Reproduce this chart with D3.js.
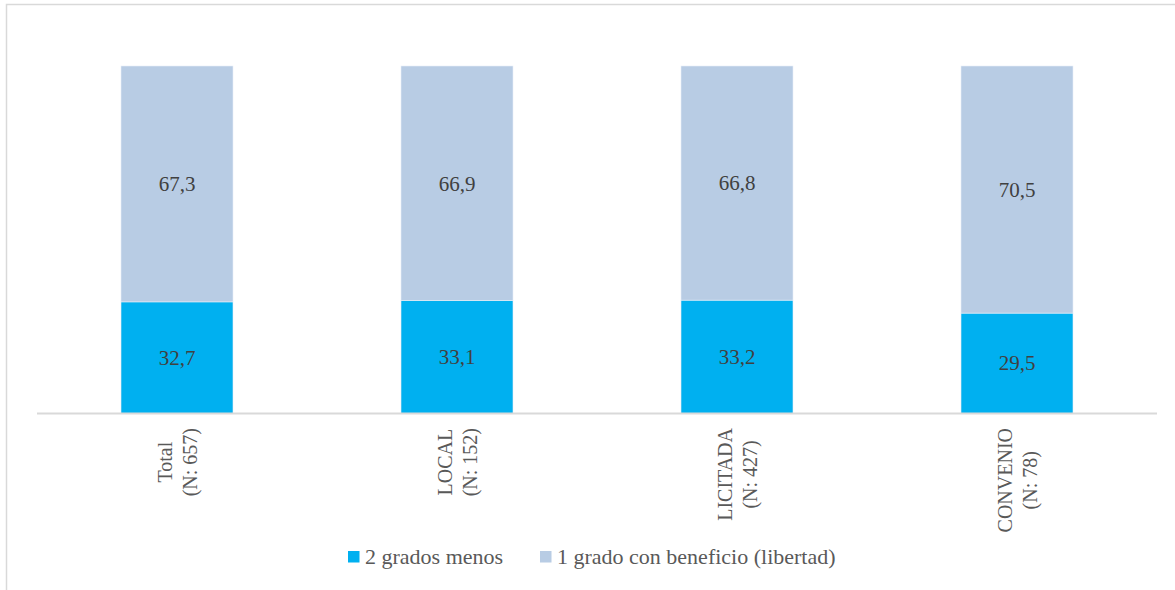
<!DOCTYPE html>
<html><head><meta charset="utf-8">
<script src="https://cdn.jsdelivr.net/npm/d3@7/dist/d3.min.js"></script>
<style>html,body{margin:0;padding:0;background:#fff;overflow:hidden}</style>
</head><body>
<script>
const categories = ["Total", "LOCAL", "LICITADA", "CONVENIO"];
const categorySub = ["(N: 657)", "(N: 152)", "(N: 427)", "(N: 78)"];
const seriesNames = ["2 grados menos", "1 grado con beneficio (libertad)"];
const dosGradosMenos = [32.7, 33.1, 33.2, 29.5];
const unGradoBeneficio = [67.3, 66.9, 66.8, 70.5];
const seriesColors = ["#00B0F0", "#B8CCE4"];

const W = 1175, H = 590;
const svg = d3.select("body").append("svg").attr("width", W).attr("height", H);
const font = "'Liberation Serif', 'DejaVu Serif', serif";

// chart frame
svg.append("rect").attr("x", 6.5).attr("y", 4.5).attr("width", 1300).attr("height", 700)
  .attr("fill", "none").attr("stroke", "#d9d9d9").attr("stroke-width", 1.5);

const x = d3.scaleBand().domain(categories).range([37, 1157]).paddingInner(0.6).paddingOuter(0.3);
const y = d3.scaleLinear().domain([0, 100]).range([416.5, 66]);

const data = categories.map((c, i) => ({cat: c, vals: [dosGradosMenos[i], unGradoBeneficio[i]]}));
const stack = d3.stack().keys([0, 1]).value((d, k) => d.vals[k]);
const series = stack(data);

svg.append("clipPath").attr("id", "clip").append("rect")
  .attr("x", 0).attr("y", 0).attr("width", W).attr("height", 413);

const g = svg.append("g").attr("clip-path", "url(#clip)");
series.forEach((s, k) => {
  g.selectAll(null).data(s).enter().append("rect")
    .attr("x", d => x(d.data.cat))
    .attr("width", x.bandwidth())
    .attr("y", d => y(d[1]))
    .attr("height", d => y(d[0]) - y(d[1]))
    .attr("fill", seriesColors[k])
    .attr("stroke", "#e8eef7").attr("stroke-width", 0.6);
});

// data labels
series.forEach((s, k) => {
  svg.selectAll(null).data(s).enter().append("text")
    .attr("x", d => x(d.data.cat) + x.bandwidth() / 2)
    .attr("y", d => (Math.min(y(d[0]), 413) + y(d[1])) / 2)
    .attr("dy", "0.35em")
    .attr("text-anchor", "middle")
    .attr("font-family", font).attr("font-size", 21).attr("fill", "#404040")
    .text(d => d3.format(".1f")(d[1] - d[0]).replace(".", ","));
});

// axis line
svg.append("line").attr("x1", 37).attr("x2", 1157).attr("y1", 413.5).attr("y2", 413.5)
  .attr("stroke", "#d9d9d9").attr("stroke-width", 2);

// category labels (rotated, two lines)
categories.forEach((c, i) => {
  const cx = x(c) + x.bandwidth() / 2;
  const grp = svg.append("g");
  const lines = [c, categorySub[i]];
  const texts = lines.map((t, j) => grp.append("text")
    .attr("text-anchor", "middle")
    .attr("font-family", font).attr("font-size", 20).attr("fill", "#595959")
    .attr("x", 0).attr("y", (j - 0.5) * 25 + 7)
    .text(t));
  const maxLen = d3.max(texts, t => t.node().getComputedTextLength());
  grp.attr("transform", `translate(${cx},${428 + maxLen / 2}) rotate(-90)`);
});

// legend
const legendX = [348, 540];
seriesNames.forEach((n, k) => {
  svg.append("rect").attr("x", legendX[k]).attr("y", 551).attr("width", 11.5).attr("height", 11.5)
    .attr("fill", seriesColors[k]);
  svg.append("text").attr("x", legendX[k] + 17).attr("y", 564)
    .attr("font-family", font).attr("font-size", 22).attr("fill", "#595959")
    .text(n);
});
</script>
</body></html>
